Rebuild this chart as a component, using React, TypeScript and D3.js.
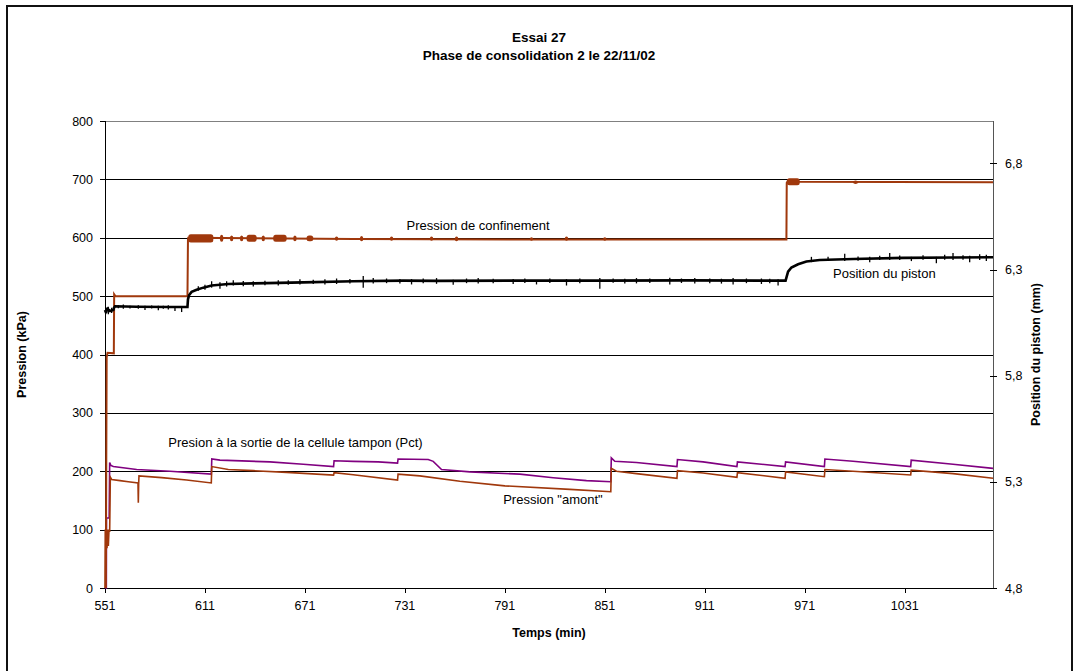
import React from "react";
import * as d3 from "d3";

// ---- data ----
const TIME_TICKS = [551, 611, 671, 731, 791, 851, 911, 971, 1031];
const PRESSURE_TICKS = [0, 100, 200, 300, 400, 500, 600, 700, 800];
const PISTON_TICKS = [4.8, 5.3, 5.8, 6.3, 6.8];

// Pression de confinement (kPa)
const confinement: [number, number][] = [
  [551.5, 0], [552.0, 395], [552.5, 403], [556.3, 402], [556.5, 503], [557.2, 500],
  [600.5, 500], [600.8, 597], [601, 600], [700, 598], [800, 597], [900, 597],
  [960.0, 597], [960.2, 694], [961, 698], [965, 696], [1084, 695],
];
// thicker noisy blobs on the confinement trace [tStart, tEnd, low, high]
const confinementNoise: [number, number, number, number][] = [
  [601, 616, 592, 606], [620, 622, 593, 605], [626, 628, 594, 604], [632, 634, 594, 604],
  [636, 642, 593, 605], [645, 647, 594, 604], [652, 660, 593, 605], [664, 666, 594, 604],
  [672, 676, 594, 604], [689, 691, 595, 602], [704, 706, 594, 603], [722, 724, 595, 602],
  [746, 748, 595, 602], [761, 763, 594, 602], [806, 808, 595, 601], [827, 829, 595, 602],
  [850, 852, 595, 601], [960.3, 968, 690, 702], [1000, 1003, 692, 698],
];

// Pression "amont" (kPa)
const amont: [number, number][] = [
  [551.0, 0], [551.15, 100], [551.4, 70], [551.8, 98], [552.2, 68], [552.6, 100],
  [553.0, 72], [553.4, 100], [553.8, 96], [554.2, 190], [555, 186], [560, 184],
  [565, 182], [570.8, 180], [571.0, 146], [571.2, 178], [571.4, 192], [585, 189],
  [600, 185], [614.8, 180], [615.1, 208], [625, 203], [640, 201], [660, 198],
  [688.2, 193.5], [688.5, 197.5], [700, 194], [726.6, 185], [726.9, 195], [740, 192],
  [764, 183], [791, 175], [830, 169], [854.6, 165], [854.9, 205], [858, 200],
  [870, 196], [894.3, 188], [894.6, 201], [910, 197], [930.3, 189.6], [930.6, 197.5],
  [959.2, 188], [959.5, 199], [982.8, 190.7], [983.1, 203], [1000, 200],
  [1034.6, 193.6], [1034.9, 202], [1060, 196], [1084, 188],
];

// Presion à la sortie de la cellule tampon (Pct) (kPa)
const pct: [number, number][] = [
  [551.0, 0], [551.8, 0], [551.9, 120], [553.5, 120], [553.8, 215], [554.5, 210],
  [556, 208], [570, 203], [590, 200], [614.8, 195], [615.1, 221], [620, 219],
  [650, 216], [670, 212], [688.2, 208], [688.5, 218], [700, 217], [715, 216],
  [726.6, 214], [726.9, 221], [745, 220], [748, 217], [753, 203], [770, 199],
  [800, 195], [820, 189], [840, 184], [854.6, 182], [854.9, 223], [857, 217],
  [870, 215], [894.3, 208], [894.6, 220], [910, 216], [930.3, 208], [930.6, 216],
  [959.2, 208], [959.5, 216], [982.8, 208], [983.1, 221], [1000, 217],
  [1034.6, 208], [1034.9, 219], [1060, 212], [1084, 205],
];

// Position du piston (mm)
const piston: [number, number][] = [
  [551.0, 6.11], [551.5, 6.10], [552.5, 6.115], [554, 6.105], [556.0, 6.11],
  [556.4, 6.12], [557, 6.127], [570, 6.125], [590, 6.124], [600.5, 6.124],
  [600.8, 6.16], [601.5, 6.18], [603, 6.195], [606, 6.205], [610, 6.215],
  [615, 6.225], [625, 6.232], [640, 6.235], [670, 6.24], [700, 6.245], [730, 6.248],
  [750, 6.247], [800, 6.248], [850, 6.248], [900, 6.249], [959.5, 6.248],
  [960.0, 6.262], [961, 6.29], [963, 6.31], [967, 6.325], [972, 6.338], [980, 6.345],
  [1000, 6.35], [1030, 6.355], [1060, 6.357], [1084, 6.358],
];
// spikes on the piston trace [t, low, high] (mm)
const pistonSpikes: [number, number, number][] = [
  [552, 6.095, 6.12], [553, 6.09, 6.125], [555, 6.095, 6.12], [559, 6.118, 6.132],
  [562, 6.115, 6.135], [566, 6.117, 6.13], [571, 6.115, 6.132], [575, 6.11, 6.13],
  [579, 6.117, 6.131], [583, 6.108, 6.13], [586, 6.116, 6.13], [589, 6.112, 6.132],
  [593, 6.105, 6.128], [597, 6.1, 6.125], [607, 6.2, 6.222], [611, 6.205, 6.228],
  [615, 6.215, 6.245], [620, 6.21, 6.24], [624, 6.22, 6.245], [628, 6.225, 6.25],
  [634, 6.222, 6.246], [640, 6.22, 6.245], [647, 6.226, 6.248], [655, 6.225, 6.25],
  [661, 6.228, 6.25], [668, 6.23, 6.255], [676, 6.232, 6.252], [683, 6.23, 6.254],
  [690, 6.232, 6.258], [698, 6.235, 6.256], [706, 6.215, 6.27], [712, 6.235, 6.26],
  [720, 6.236, 6.258], [728, 6.234, 6.256], [735, 6.23, 6.255], [742, 6.236, 6.258],
  [750, 6.233, 6.26], [760, 6.228, 6.252], [768, 6.236, 6.258], [775, 6.235, 6.26],
  [784, 6.236, 6.257], [796, 6.232, 6.256], [803, 6.237, 6.258], [810, 6.23, 6.25],
  [818, 6.237, 6.258], [828, 6.225, 6.255], [836, 6.236, 6.258], [848, 6.21, 6.26],
  [856, 6.238, 6.258], [863, 6.234, 6.257], [870, 6.235, 6.26], [878, 6.237, 6.258],
  [890, 6.23, 6.262], [897, 6.237, 6.258], [905, 6.235, 6.26], [914, 6.236, 6.258],
  [921, 6.234, 6.257], [928, 6.23, 6.26], [936, 6.236, 6.258], [945, 6.232, 6.258],
  [950, 6.236, 6.257], [955, 6.225, 6.255], [975, 6.335, 6.36], [985, 6.34, 6.36],
  [995, 6.34, 6.375], [1003, 6.342, 6.362], [1010, 6.335, 6.36], [1016, 6.345, 6.365],
  [1022, 6.345, 6.378], [1028, 6.345, 6.366], [1035, 6.34, 6.36], [1042, 6.346, 6.368],
  [1050, 6.33, 6.36], [1055, 6.346, 6.37], [1060, 6.345, 6.378], [1066, 6.346, 6.368],
  [1070, 6.335, 6.365], [1076, 6.345, 6.372], [1080, 6.34, 6.37],
];

// annotations [text, t, kPa-baseline]
const annotations: [string, number, number][] = [
  ["Pression de confinement", 732, 613],
  ["Position du piston", 988, 531],
  ["Presion à la sortie de la cellule tampon (Pct)", 589, 241],
  ["Pression \"amont\"", 790, 144],
];

const BROWN = "#A0380C";
const PURPLE = "#800080";
const FONT = "'Liberation Sans', Arial, sans-serif";

export default function App() {
  const W = 1079, H = 671;
  const left = 105, right = 993, top = 121, bottom = 588;
  const x = d3.scaleLinear().domain([551, 1084]).range([left, right]);
  const yL = d3.scaleLinear().domain([0, 800]).range([bottom, top]);
  const yR = d3.scaleLinear().domain([4.8, 7.0]).range([bottom, top]);

  const lineL = d3.line<[number, number]>().x(d => x(d[0])).y(d => yL(d[1]));
  const lineR = d3.line<[number, number]>().x(d => x(d[0])).y(d => yR(d[1]));

  return (
    <svg width={W} height={H} style={{ position: "absolute", left: 0, top: 0, background: "#fff" }} fontFamily={FONT}>
      <rect x={0} y={0} width={W} height={H} fill="#fff" />
      {/* chart area frame */}
      <path d={`M7,${H + 5} L7,6 L1072,6 L1072,${H + 5}`} fill="none" stroke="#111" strokeWidth={2} />

      {/* title */}
      <text x={539} y={42} textAnchor="middle" fontWeight="bold" fontSize={13.5}>Essai 27</text>
      <text x={539} y={60} textAnchor="middle" fontWeight="bold" fontSize={13.5}>Phase de consolidation 2 le 22/11/02</text>

      {/* gridlines */}
      {PRESSURE_TICKS.map(v => (
        <line key={"g" + v} x1={left} x2={right} y1={Math.round(yL(v)) + 0.5} y2={Math.round(yL(v)) + 0.5}
          stroke={v === 800 ? "#808080" : "#000"} strokeWidth={1} shapeRendering="crispEdges" />
      ))}
      {/* axes lines */}
      <line x1={left + 0.5} x2={left + 0.5} y1={top} y2={bottom} stroke="#000" shapeRendering="crispEdges" />
      <line x1={right + 0.5} x2={right + 0.5} y1={top} y2={bottom} stroke="#555" shapeRendering="crispEdges" />
      <line x1={left} x2={right} y1={bottom + 0.5} y2={bottom + 0.5} stroke="#000" shapeRendering="crispEdges" />

      {/* left ticks */}
      {PRESSURE_TICKS.map(v => (
        <g key={"l" + v}>
          <line x1={left - 5} x2={left} y1={Math.round(yL(v)) + 0.5} y2={Math.round(yL(v)) + 0.5} stroke="#000" shapeRendering="crispEdges" />
          <text x={left - 12} y={yL(v) + 4.5} textAnchor="end" fontSize={12.5}>{v}</text>
        </g>
      ))}
      {/* right ticks */}
      {PISTON_TICKS.map(v => (
        <g key={"r" + v}>
          <line x1={right - 3} x2={right + 4} y1={Math.round(yR(v)) + 0.5} y2={Math.round(yR(v)) + 0.5} stroke="#000" shapeRendering="crispEdges" />
          <text x={right + 12} y={yR(v) + 4.5} textAnchor="start" fontSize={12.5}>{v.toFixed(1).replace(".", ",")}</text>
        </g>
      ))}
      {/* bottom ticks */}
      {TIME_TICKS.map(v => (
        <g key={"b" + v}>
          <line x1={Math.round(x(v)) + 0.5} x2={Math.round(x(v)) + 0.5} y1={bottom} y2={bottom + 5} stroke="#000" shapeRendering="crispEdges" />
          <text x={x(v)} y={bottom + 22} textAnchor="middle" fontSize={12.5}>{v}</text>
        </g>
      ))}

      {/* axis titles */}
      <text x={549} y={637} textAnchor="middle" fontWeight="bold" fontSize={12.5}>Temps (min)</text>
      <text transform={`translate(26,${(top + bottom) / 2}) rotate(-90)`} textAnchor="middle" fontWeight="bold" fontSize={12.5}>Pression (kPa)</text>
      <text transform={`translate(1040,${(top + bottom) / 2}) rotate(-90)`} textAnchor="middle" fontWeight="bold" fontSize={12.5}>Position du piston (mm)</text>

      {/* series */}
      <path d={lineL(pct) || ""} fill="none" stroke={PURPLE} strokeWidth={1.6} />
      <path d={lineL(amont) || ""} fill="none" stroke={BROWN} strokeWidth={1.6} />
      <path d={lineL(confinement) || ""} fill="none" stroke={BROWN} strokeWidth={2} />
      {confinementNoise.map((d, i) => (
        <rect key={"cn" + i} x={x(d[0])} width={Math.max(2, x(d[1]) - x(d[0]))} y={yL(d[3])} height={yL(d[2]) - yL(d[3])}
          rx={2.5} fill={BROWN} />
      ))}
      <path d={lineR(piston) || ""} fill="none" stroke="#000" strokeWidth={2.6} />
      {pistonSpikes.map((d, i) => (
        <line key={"ps" + i} x1={x(d[0])} x2={x(d[0])} y1={yR(d[1])} y2={yR(d[2])} stroke="#000" strokeWidth={1.3} />
      ))}

      {/* annotations */}
      {annotations.map(([t, tx, v]) => (
        <text key={t} x={x(tx)} y={yL(v)} fontSize={13} fill="#000">{t}</text>
      ))}
    </svg>
  );
}
